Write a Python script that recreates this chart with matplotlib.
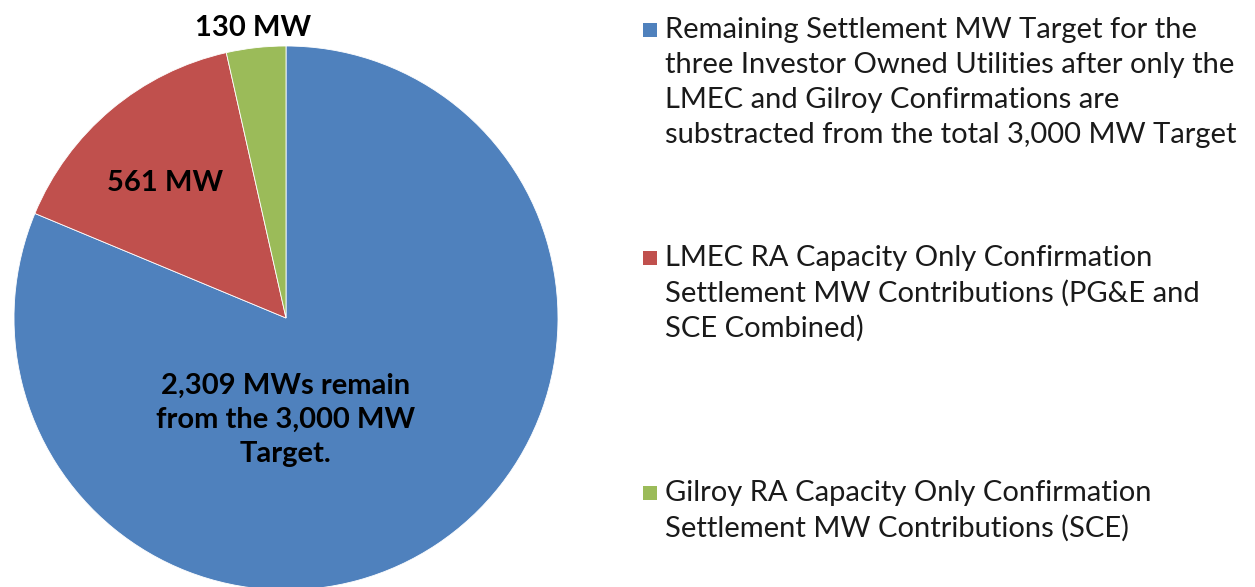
import matplotlib
matplotlib.use("Agg")
import matplotlib.pyplot as plt
from matplotlib.patches import Rectangle

# slice sizes as drawn in the original (the blue slice is drawn at 3,000 even
# though its label says 2,309 -- the wedge angles only match 3000/561/130)
values = [3000, 561, 130]
colors = ["#4F81BD", "#C0504D", "#9BBB59"]
slice_labels = ["2,309 MWs remain\nfrom the 3,000 MW\nTarget.", "561 MW", "130 MW"]
legend_labels = [
    "Remaining Settlement MW Target for the\nthree Investor Owned Utilities after only the\n"
    "LMEC and Gilroy Confirmations are\nsubstracted from the total 3,000 MW Target",
    "LMEC RA Capacity Only Confirmation\nSettlement MW Contributions (PG&E and\nSCE Combined)",
    "Gilroy RA Capacity Only Confirmation\nSettlement MW Contributions (SCE)",
]

W, H = 1255, 587
FONT = ["Lato", "DejaVu Sans"]
FS = 21

fig = plt.figure(figsize=(W / 100, H / 100), dpi=100)
fig.patch.set_facecolor("white")

# pie axes: centre (286, 318) px, radius 272 px
cx, cy, r = 286, 318, 272
ax = fig.add_axes([(cx - r) / W, (H - cy - r) / H, 2 * r / W, 2 * r / H])
wedges, _ = ax.pie(values, colors=colors, startangle=90, counterclock=False,
                   radius=1, wedgeprops=dict(edgecolor="white", linewidth=0.6))
ax.set_xlim(-1, 1)
ax.set_ylim(-1, 1)
ax.set_aspect("auto")
ax.axis("off")

# data label placement (same spots as the original chart)
label_pos = [(0.0, -0.375), (-0.445, 0.496), (-0.12, 1.065)]
for txt, (x, y) in zip(slice_labels, label_pos):
    ax.text(x, y, txt, ha="center", va="center", fontsize=FS, fontweight="bold",
            family=FONT, linespacing=1.4, clip_on=False)

# legend drawn by hand so entries keep the Excel spacing
first_line_y = [30, 258, 493]
line_step = 35
for w, lab, y0 in zip(wedges, legend_labels, first_line_y):
    fig.patches.append(Rectangle((643 / W, 1 - (y0 + 7) / H), 14 / W, 14 / H,
                                 transform=fig.transFigure,
                                 facecolor=w.get_facecolor(), edgecolor="none"))
    for i, line in enumerate(lab.split("\n")):
        fig.text(665 / W, 1 - (y0 + i * line_step) / H, line, ha="left", va="center",
                 fontsize=FS, family=FONT, color="#1a1a1a")

fig.savefig("out.png", dpi=100)
